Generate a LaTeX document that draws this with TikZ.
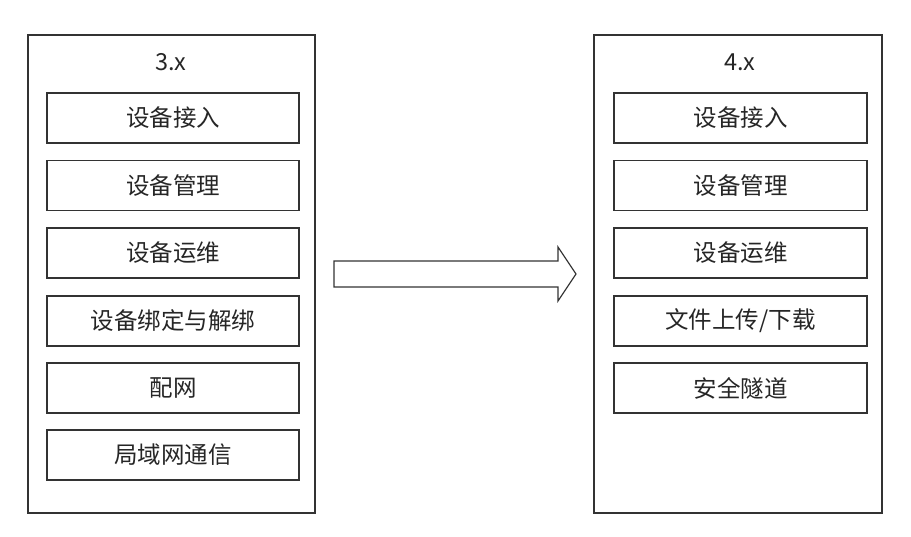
\documentclass[tikz,border=0pt]{standalone}
\usepackage{fontspec}
\setmainfont{Noto Sans CJK SC}
\definecolor{linegray}{HTML}{333333}
\tikzset{
	panel/.style={draw=linegray, line width=1.2pt, minimum width=287pt, minimum height=478pt, inner sep=0pt},
	item/.style={draw=linegray, line width=1.2pt, minimum width=252pt, minimum height=50pt, inner sep=0pt, font=\fontsize{23.5}{26}\selectfont, text=black!85},
	title/.style={font=\fontsize{23.5}{26}\selectfont, text=black!85}
}
\begin{document}
\begin{tikzpicture}[x=1pt, y=-1pt]
	\useasboundingbox (0,0) rectangle (911,536);

	\draw (171.5,274) node[panel] (old) {};
	\draw (171,62) node[title] (oldtitle) {3.x};
	\draw (173,118) node[item] (o1) {设备接入};
	\draw (173,185.5) node[item] (o2) {设备管理};
	\draw (173,253) node[item] (o3) {设备运维};
	\draw (173,321) node[item] (o4) {设备绑定与解绑};
	\draw (173,388) node[item] (o5) {配网};
	\draw (173,455) node[item] (o6) {局域网通信};

	\draw (738,274) node[panel, minimum width=288pt] (new) {};
	\draw (740,62) node[title] (newtitle) {4.x};
	\draw (740.5,118) node[item, minimum width=253pt] (n1) {设备接入};
	\draw (740.5,185.5) node[item, minimum width=253pt] (n2) {设备管理};
	\draw (740.5,253) node[item, minimum width=253pt] (n3) {设备运维};
	\draw (740.5,321) node[item, minimum width=253pt] (n4) {文件上传/下载};
	\draw (740.5,388) node[item, minimum width=253pt] (n5) {安全隧道};

	\draw[linegray, line width=1.2pt, line join=miter]
		(334,261) -- (558,261) -- (558,247) -- (576,274) -- (558,301)
		-- (558,287) -- (334,287) -- cycle;
\end{tikzpicture}
\end{document}
